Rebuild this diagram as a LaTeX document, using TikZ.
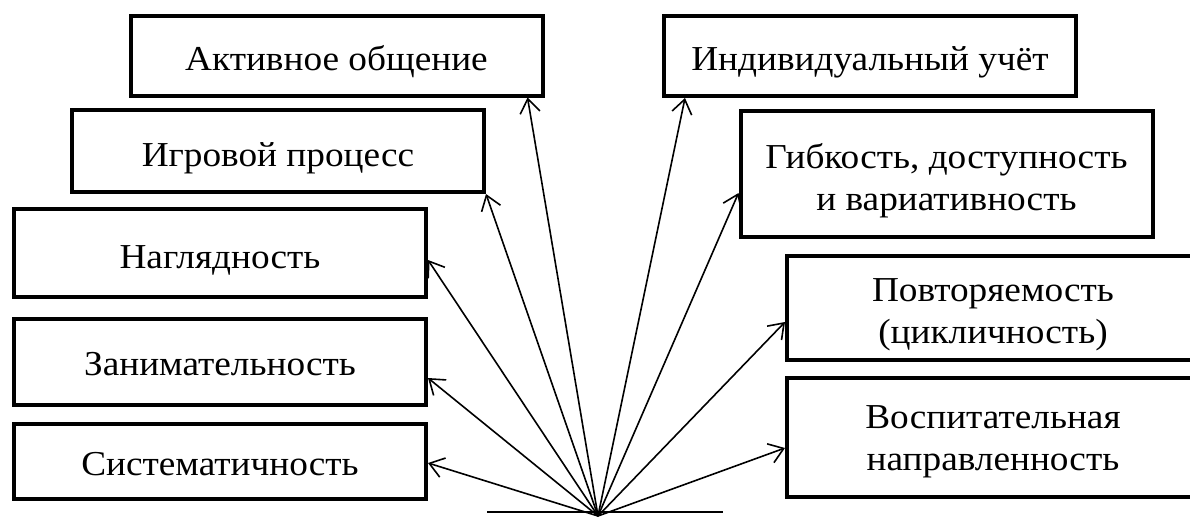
\documentclass[tikz,border=0pt]{standalone}
\usepackage{fontspec}
\setmainfont{Liberation Serif}[FakeStretch=1.065]
\usetikzlibrary{arrows.meta}
\begin{document}
\begin{tikzpicture}[x=0.5pt,y=-0.5pt,
  box/.style={draw, line width=2pt, minimum width=206pt, inner sep=0pt,
    text depth=0pt, font=\fontsize{17.5}{21}\selectfont},
  conn/.style={line width=0.8pt, -{Straight Barb[length=7pt,width=10pt]}},
  baseln/.style={line width=1pt}]
\useasboundingbox (0,0) rectangle (1190,520);
% left column
\node[box, minimum height=40pt, text height=14.5pt] (akt) at (336.5,55.5) {Активное общение};
\node[box, minimum height=41pt, text height=15pt] (igr) at (278,151) {Игровой процесс};
\node[box, minimum height=44pt, text height=15pt] (nag) at (220,253) {Наглядность};
\node[box, minimum height=43pt, text height=13pt] (zan) at (220,362) {Занимательность};
\node[box, minimum height=37.5pt, text height=13.5pt] (sis) at (220,461.5) {Систематичность};
% right column
\node[box, minimum height=40pt, text height=14pt] (ind) at (870,56) {Индивидуальный учёт};
\node[box, minimum height=63pt, text height=36pt] (gib) at (946.5,174)
  {\begin{tabular}[b]{@{}c@{}}Гибкость, доступность\\и вариативность\end{tabular}};
\node[box, minimum height=52pt, text height=35pt] (pov) at (993,308)
  {\begin{tabular}[b]{@{}c@{}}Повторяемость\\(цикличность)\end{tabular}};
\node[box, minimum height=59.5pt, text height=32.5pt] (vos) at (993,437.5)
  {\begin{tabular}[b]{@{}c@{}}Воспитательная\\направленность\end{tabular}};
% base
\coordinate (o) at (598,516);
\coordinate (hl) at (487,512);
\coordinate (hr) at (723,512);
\draw[baseln] (hl) -- (hr);
% connectors
\draw[conn] (o) -- ([xshift=-8.5pt]akt.south east);
\draw[conn] (o) -- (igr.south east);
\draw[conn] (o) -- ([yshift=-3.5pt]nag.east);
\draw[conn] (o) -- ([yshift=-8pt]zan.east);
\draw[conn] (o) -- ([yshift=-0.75pt]sis.east);
\draw[conn] (o) -- ([xshift=11.5pt]ind.south west);
\draw[conn] (o) -- ([yshift=-9.5pt]gib.west);
\draw[conn] (o) -- ([yshift=-7pt]pov.west);
\draw[conn] (o) -- ([yshift=-5.25pt]vos.west);
\end{tikzpicture}
\end{document}
